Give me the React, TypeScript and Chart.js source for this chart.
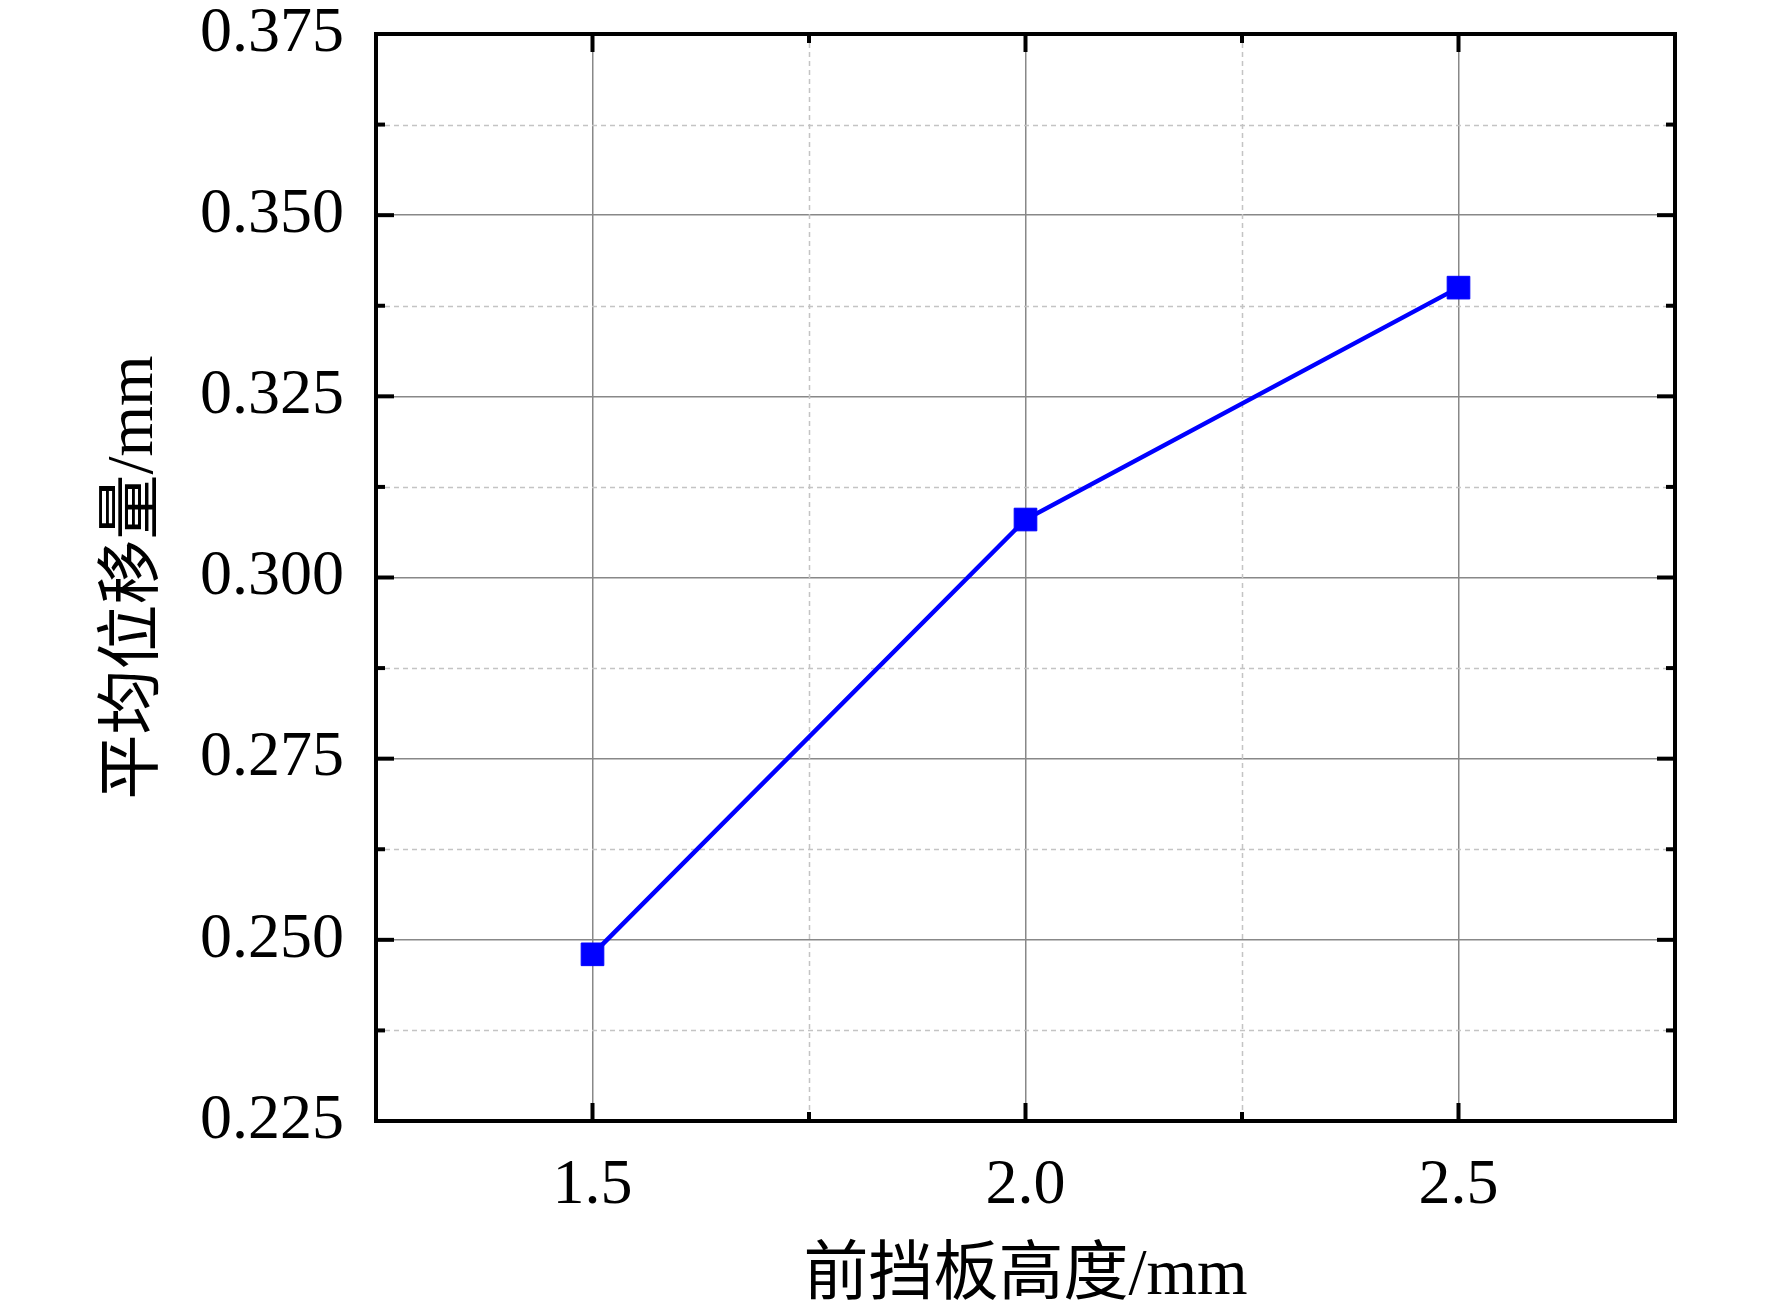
import React, { useEffect, useRef } from "react";
import { Chart, registerables } from "chart.js";

Chart.register(...registerables);

// ---- data ----
const xValues = [1.5, 2.0, 2.5];
const yValues = [0.248, 0.308, 0.34];
const xMajorTicks = [1.5, 2.0, 2.5];
const xMinorTicks = [1.25, 1.75, 2.25, 2.75];
const yMajorTicks = [0.225, 0.25, 0.275, 0.3, 0.325, 0.35, 0.375];
const yMinorTicks = [0.2375, 0.2625, 0.2875, 0.3125, 0.3375, 0.3625];
const xTitle = "前挡板高度/mm";
const yTitle = "平均位移量/mm";

const W = 1772;
const H = 1316;
const FONT = '"Liberation Serif", "Noto Sans CJK SC", serif';
const MAJOR_GRID = "#888888";
const MINOR_GRID = "#c4c4c4";
const LINE_BLUE = "#0000ff";

const frameTicksPlugin = {
  id: "frameTicks",
  beforeDatasetsDraw(chart: any) {
    const { ctx, chartArea, scales } = chart;
    const { left, right, top, bottom } = chartArea;
    ctx.save();
    ctx.strokeStyle = MINOR_GRID;
    ctx.lineWidth = 1.5;
    ctx.setLineDash([5, 4]);
    for (const v of yMinorTicks) {
      const py = Math.round(scales.y.getPixelForValue(v)) + 0.5;
      ctx.beginPath();
      ctx.moveTo(left, py);
      ctx.lineTo(right, py);
      ctx.stroke();
    }
    for (const v of xMinorTicks) {
      const px = Math.round(scales.x.getPixelForValue(v)) + 0.5;
      ctx.beginPath();
      ctx.moveTo(px, top);
      ctx.lineTo(px, bottom);
      ctx.stroke();
    }
    ctx.restore();
  },
  afterDatasetsDraw(chart: any) {
    const { ctx, chartArea, scales } = chart;
    const { left, right, top, bottom } = chartArea;
    const major = 18;
    const minor = 9;
    ctx.save();
    ctx.setLineDash([]);
    ctx.strokeStyle = "#000";
    ctx.lineWidth = 4;
    ctx.lineCap = "butt";
    ctx.strokeRect(left, top, right - left, bottom - top);
    const tick = (x1: number, y1: number, x2: number, y2: number) => {
      ctx.beginPath();
      ctx.moveTo(x1, y1);
      ctx.lineTo(x2, y2);
      ctx.stroke();
    };
    for (const v of yMajorTicks) {
      const py = scales.y.getPixelForValue(v);
      tick(left, py, left + major, py);
      tick(right, py, right - major, py);
    }
    for (const v of yMinorTicks) {
      const py = scales.y.getPixelForValue(v);
      tick(left, py, left + minor, py);
      tick(right, py, right - minor, py);
    }
    for (const v of xMajorTicks) {
      const px = scales.x.getPixelForValue(v);
      tick(px, bottom, px, bottom - major);
      tick(px, top, px, top + major);
    }
    for (const v of xMinorTicks) {
      const px = scales.x.getPixelForValue(v);
      tick(px, bottom, px, bottom - minor);
      tick(px, top, px, top + minor);
    }
    ctx.restore();
  },
};

export default function App() {
  const canvasRef = useRef<HTMLCanvasElement | null>(null);

  useEffect(() => {
    const canvas = canvasRef.current;
    if (!canvas) return;
    const chart = new Chart(canvas, {
      type: "line",
      data: {
        datasets: [
          {
            data: xValues.map((x, i) => ({ x, y: yValues[i] })),
            borderColor: LINE_BLUE,
            backgroundColor: LINE_BLUE,
            borderWidth: 4.5,
            pointStyle: "rect",
            pointRadius: 16,
            pointBorderWidth: 1,
            pointBorderColor: LINE_BLUE,
            pointBackgroundColor: LINE_BLUE,
            tension: 0,
            fill: false,
          },
        ],
      },
      options: {
        responsive: false,
        animation: false,
        devicePixelRatio: 1,
        layout: { padding: { left: 0, right: 97, top: 34, bottom: 0 } },
        plugins: {
          legend: { display: false },
          tooltip: { enabled: false },
        },
        scales: {
          x: {
            type: "linear",
            min: 1.25,
            max: 2.75,
            afterBuildTicks: (scale: any) => {
              scale.ticks = xMajorTicks.map((v) => ({ value: v }));
            },
            afterFit: (scale: any) => {
              scale.height = 195;
              scale.paddingLeft = 0;
              scale.paddingRight = 0;
            },
            grid: {
              color: MAJOR_GRID,
              lineWidth: 1.5,
              drawTicks: false,
            },
            border: { display: false },
            ticks: {
              color: "#000",
              padding: 27,
              font: { family: FONT, size: 64 },
              callback: (v: any) => Number(v).toFixed(1),
              maxRotation: 0,
            },
            title: {
              display: true,
              text: xTitle,
              color: "#000",
              font: { family: FONT, size: 65 },
              padding: { top: 0, bottom: 0 },
            },
          },
          y: {
            type: "linear",
            min: 0.225,
            max: 0.375,
            afterBuildTicks: (scale: any) => {
              scale.ticks = yMajorTicks.map((v) => ({ value: v }));
            },
            afterFit: (scale: any) => {
              scale.width = 376;
              scale.paddingTop = 0;
              scale.paddingBottom = 0;
            },
            grid: {
              color: MAJOR_GRID,
              lineWidth: 1.5,
              drawTicks: false,
            },
            border: { display: false },
            ticks: {
              color: "#000",
              padding: 32,
              font: { family: FONT, size: 64 },
              callback: (v: any) => Number(v).toFixed(3),
            },
            title: {
              display: true,
              text: yTitle,
              color: "#000",
              font: { family: FONT, size: 65 },
              padding: { top: 96, bottom: 0 },
            },
          },
        },
      },
      plugins: [frameTicksPlugin],
    });
    return () => chart.destroy();
  }, []);

  return (
    <div
      style={{
        position: "absolute",
        left: 0,
        top: 0,
        width: W,
        height: H,
        background: "#fff",
      }}
    >
      <canvas ref={canvasRef} width={W} height={H} style={{ display: "block" }} />
    </div>
  );
}
